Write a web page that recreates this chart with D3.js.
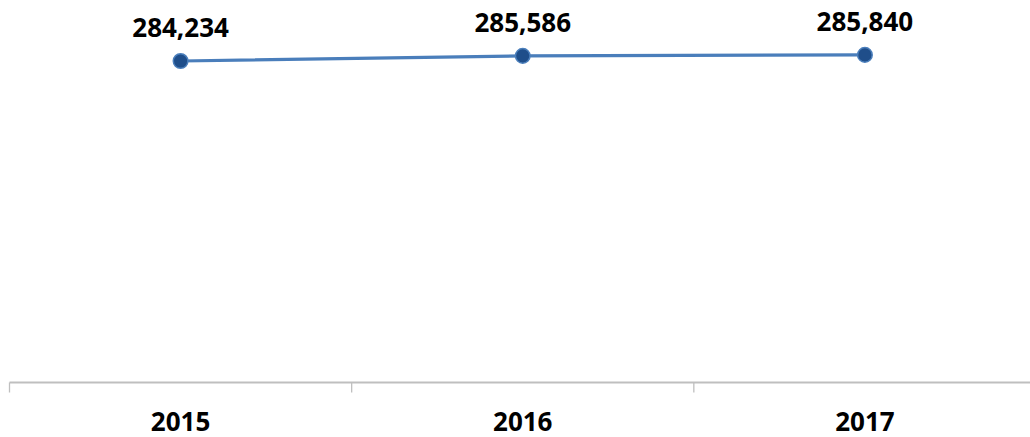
<!DOCTYPE html>
<html lang="en">
    <head>
        <meta charset="utf-8">
        <title>Line chart</title>
        <script src="https://cdn.jsdelivr.net/npm/d3@7/dist/d3.min.js" charset="utf-8"></script>
        <style type="text/css">
            body { margin: 0; background: #fff; }
            text { font-family: "Open Sans", "Noto Sans", sans-serif; font-weight: bold; }
        </style>
    </head>
    <body>
        <svg width="1030" height="437"></svg>
        <script>
            // Datos
            var years = ["2015", "2016", "2017"];
            var values = [284234, 285586, 285840];
            var yDomain = [200000, 290000];

            var svg = d3.select("svg"),
                margin = {top: 39, right: -6, bottom: 54.5, left: 9.5},
                width = +svg.attr("width") - margin.left - margin.right,
                height = +svg.attr("height") - margin.top - margin.bottom,
                g = svg.append("g").attr("transform", "translate(" + margin.left + "," + margin.top + ")");

            var x = d3.scaleBand()
                .domain(years)
                .range([0, width]);

            var y = d3.scaleLinear()
                .domain(yDomain)
                .range([height, 0]);

            var data = years.map(function(d, i) { return {year: d, value: values[i]}; });

            // Eje x con ticks entre categorías
            var axis = g.append("g")
                .attr("transform", "translate(0," + height + ")");
            axis.append("line")
                .attr("x1", 0).attr("x2", width)
                .attr("stroke", "#bfbfbf").attr("stroke-width", 2);
            axis.selectAll(".tick")
                .data(years)
                .enter().append("line")
                .attr("x1", function(d) { return x(d); })
                .attr("x2", function(d) { return x(d); })
                .attr("y1", 0).attr("y2", 10)
                .attr("stroke", "#bfbfbf").attr("stroke-width", 1.3);
            axis.selectAll(".lbl")
                .data(years)
                .enter().append("text")
                .attr("x", function(d) { return x(d) + x.bandwidth() / 2; })
                .attr("y", 48)
                .attr("text-anchor", "middle")
                .attr("font-size", 26)
                .attr("fill", "#000")
                .text(function(d) { return d; });

            // Línea
            var line = d3.line()
                .x(function(d) { return x(d.year) + x.bandwidth() / 2; })
                .y(function(d) { return y(d.value); });

            g.append("path")
                .datum(data)
                .attr("fill", "none")
                .attr("stroke", "#4a7ebb")
                .attr("stroke-width", 3.2)
                .attr("d", line);

            // Marcadores
            g.selectAll(".dot")
                .data(data)
                .enter().append("circle")
                .attr("cx", function(d) { return x(d.year) + x.bandwidth() / 2; })
                .attr("cy", function(d) { return y(d.value); })
                .attr("r", 7.3)
                .attr("fill", "#1f4e8a")
                .attr("stroke", "#4a7ebb")
                .attr("stroke-width", 1.5);

            // Etiquetas de valores
            g.selectAll(".val")
                .data(data)
                .enter().append("text")
                .attr("x", function(d) { return x(d.year) + x.bandwidth() / 2; })
                .attr("y", function(d) { return y(d.value) - 24; })
                .attr("text-anchor", "middle")
                .attr("font-size", 26)
                .attr("fill", "#000")
                .text(function(d) { return d3.format(",")(d.value); });
        </script>
    </body>
</html>
